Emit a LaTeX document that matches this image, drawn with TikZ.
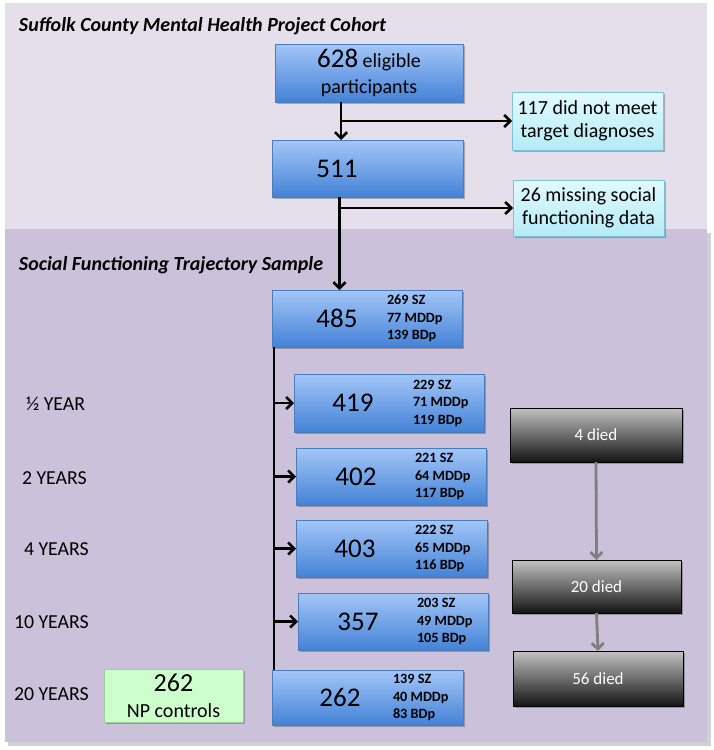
\documentclass[tikz,border=0pt]{standalone}
\usepackage{fontspec}
\setmainfont{Carlito}
\usetikzlibrary{arrows.meta,shadows}
\definecolor{toppanel}{HTML}{E5DFEC}
\definecolor{lowpanel}{HTML}{CCC1DA}
\definecolor{bluetop}{HTML}{A3C6F8}
\definecolor{bluebot}{HTML}{4482D6}
\definecolor{blueedge}{HTML}{4A7EBB}
\definecolor{cyantop}{HTML}{E2FAFD}
\definecolor{cyanbot}{HTML}{B5EBF6}
\definecolor{cyanedge}{HTML}{7CC3D6}
\definecolor{greenfill}{HTML}{CCFFCC}
\definecolor{greenedge}{HTML}{9CCF9C}
\definecolor{greytop}{HTML}{C2C2C2}
\definecolor{greybot}{HTML}{141414}
\definecolor{greyarrow}{HTML}{7F7F7F}
\tikzset{
  every node/.style={inner sep=0pt, outer sep=0pt},
  boxshadow/.style={drop shadow={shadow xshift=1.5pt, shadow yshift=-1.5pt, fill=black, opacity=0.25}},
  bluebox/.style={draw=blueedge, line width=0.6pt, top color=bluetop, bottom color=bluebot, boxshadow, anchor=north west},
  cyanbox/.style={draw=cyanedge, line width=0.6pt, top color=cyantop, bottom color=cyanbot, boxshadow, anchor=north west, align=center, font=\fontsize{20}{23}\selectfont},
  greenbox/.style={draw=greenedge, line width=0.6pt, fill=greenfill, boxshadow, anchor=north west, align=center, font=\fontsize{20}{26}\selectfont},
  greybox/.style={draw=black, line width=0.8pt, top color=greytop, bottom color=greybot, boxshadow, anchor=north west, text=white, font=\fontsize{17}{20}\selectfont},
  bignum/.style={font=\fontsize{27}{30}\selectfont},
  subtext/.style={font=\bfseries\fontsize{14.2}{17.5}\selectfont, align=left, anchor=west},
  yearlabel/.style={font=\fontsize{19.8}{23}\selectfont, anchor=west},
  paneltitle/.style={font=\bfseries\itshape\fontsize{20}{23}\selectfont, anchor=west},
  arr/.style={line width=2.6pt, -{Straight Barb[length=6pt,width=12pt]}},
  plainline/.style={line width=2.8pt},
  greyarr/.style={line width=2.8pt, greyarrow, -{Straight Barb[length=6pt,width=12pt]}},
}
\begin{document}
\begin{tikzpicture}[x=1pt,y=-1pt]
\useasboundingbox (0,0) rectangle (713,750);
% panels
\fill[black,opacity=0.18] (8,233) rectangle (711,746);
\fill[toppanel] (5,3) rectangle (707,229);
\fill[lowpanel] (5,229) rectangle (707,742);
\node[paneltitle] (t1) at (19,26) {Suffolk County Mental Health Project Cohort};
\node[paneltitle] (t2) at (19,265) {Social Functioning Trajectory Sample};

% top boxes
\node[bluebox, minimum width=188pt, minimum height=58pt, align=center, font=\fontsize{20}{26}\selectfont] (b628) at (275,44)
  {{\fontsize{27}{28}\selectfont 628} eligible\\participants};
\node[cyanbox, minimum width=151pt, minimum height=58pt] (b117) at (512,92) {117 did not meet\\target diagnoses};
\node[bluebox, minimum width=191pt, minimum height=57pt] (b511) at (272,140) {};
\node[bignum] (n511) at ([xshift=65]b511.west) {511};
\node[cyanbox, minimum width=151pt, minimum height=56pt] (b26) at (513,180) {26 missing social\\functioning data};

% cohort boxes
\node[bluebox, minimum width=190pt, minimum height=57pt] (b485) at (272,290) {};
\node[bignum] (n485) at ([xshift=65]b485.west) {485};
\node[subtext] (s485) at ([xshift=115]b485.west) {269 SZ\\77 MDDp\\139 BDp};

\node[bluebox, minimum width=190pt, minimum height=58pt] (b419) at (294,374) {};
\node[bignum] (n419) at ([xshift=59]b419.west) {419};
\node[subtext] (s419) at ([xshift=119]b419.west) {229 SZ\\71 MDDp\\119 BDp};

\node[bluebox, minimum width=190pt, minimum height=57pt] (b402) at (296,448) {};
\node[bignum] (n402) at ([xshift=60]b402.west) {402};
\node[subtext] (s402) at ([xshift=119]b402.west) {221 SZ\\64 MDDp\\117 BDp};

\node[bluebox, minimum width=191pt, minimum height=57pt] (b403) at (296,520) {};
\node[bignum] (n403) at ([xshift=59]b403.west) {403};
\node[subtext] (s403) at ([xshift=119]b403.west) {222 SZ\\65 MDDp\\116 BDp};

\node[bluebox, minimum width=190pt, minimum height=57pt] (b357) at (298,593) {};
\node[bignum] (n357) at ([xshift=60]b357.west) {357};
\node[subtext] (s357) at ([xshift=119]b357.west) {203 SZ\\49 MDDp\\105 BDp};

\node[bluebox, minimum width=191pt, minimum height=55pt] (b262) at (272,670) {};
\node[bignum] (n262) at ([xshift=68]b262.west) {262};
\node[subtext] (s262) at ([xshift=121]b262.west) {139 SZ\\40 MDDp\\83 BDp};

\node[greenbox, minimum width=139pt, minimum height=53pt] (np) at (104,669)
  {{\fontsize{26}{28}\selectfont 262}\\NP controls};

% year labels
\node[yearlabel] (y1) at (26,404) {½ YEAR};
\node[yearlabel] (y2) at (22,478) {2 YEARS};
\node[yearlabel] (y4) at (24,549) {4 YEARS};
\node[yearlabel] (y10) at (14,622) {10 YEARS};
\node[yearlabel] (y20) at (14,694) {20 YEARS};

% died boxes
\node[greybox, minimum width=172pt, minimum height=54pt] (d4) at (510,408) {4 died};
\node[greybox, minimum width=169pt, minimum height=53pt] (d20) at (512,560) {20 died};
\node[greybox, minimum width=170pt, minimum height=55pt] (d56) at (513,651) {56 died};

% top connectors
\coordinate (c1) at ([xshift=-28]b628.south);
\draw[arr] (c1) -- (c1 |- b511.north);
\draw[arr] (c1 |- b117.west) -- (b117.west);
\coordinate (c2) at ([xshift=-28]b511.south);
\draw[arr] (c2) -- (c2 |- b485.north);
\draw[arr] (c2 |- b26.west) -- (b26.west);

% trunk
\coordinate (vtop) at ([xshift=2]b485.south west);
\coordinate (vbot) at ([xshift=2]b262.north west);
\draw[plainline] (vtop) -- (vbot);
\draw[arr] (vtop |- b419.west) -- (b419.west);
\draw[arr] (vtop |- b402.west) -- (b402.west);
\draw[arr] (vtop |- b403.west) -- (b403.west);
\draw[arr] (vtop |- b357.west) -- (b357.west);

% died connectors
\draw[greyarr] (d4.south) -- (d20.north);
\draw[greyarr] (d20.south) -- (d56.north);
\end{tikzpicture}
\end{document}
